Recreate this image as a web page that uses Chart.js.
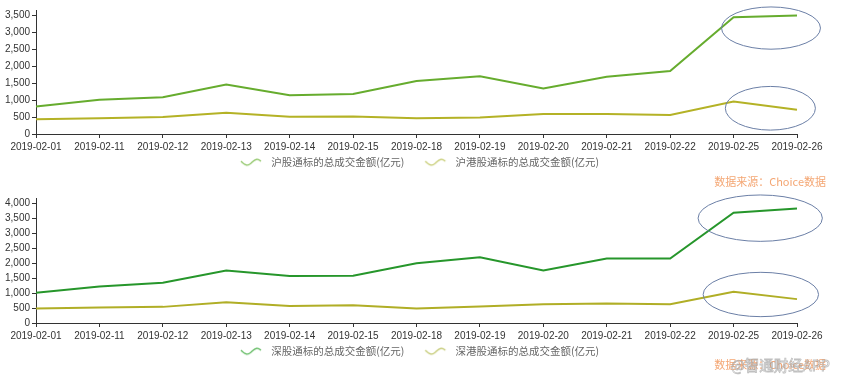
<!DOCTYPE html>
<html>
<head>
<meta charset="utf-8">
<script src="https://cdn.jsdelivr.net/npm/chart.js@4.4.1/dist/chart.umd.min.js"></script>
<style>
  html, body { margin: 0; padding: 0; background: #ffffff; }
  #wrap { position: relative; width: 843px; height: 383px; overflow: hidden; }
  .box { position: absolute; left: 0; width: 843px; }
</style>
</head>
<body>
<div id="wrap">
  <div class="box" style="top:0;height:190px;"><canvas id="c1" width="843" height="190"></canvas></div>
  <div class="box" style="top:190px;height:193px;"><canvas id="c2" width="843" height="193"></canvas></div>
</div>
<script>
// ---------- data ----------
const categories = ['2019-02-01','2019-02-11','2019-02-12','2019-02-13','2019-02-14','2019-02-15','2019-02-18','2019-02-19','2019-02-20','2019-02-21','2019-02-22','2019-02-25','2019-02-26'];

const shNorthLabel = '沪股通标的总成交金额(亿元)';
const shNorth = [810, 1008, 1085, 1462, 1140, 1180, 1560, 1700, 1345, 1690, 1857, 3440, 3495];
const shSouthLabel = '沪港股通标的总成交金额(亿元)';
const shSouth = [433, 463, 504, 623, 506, 513, 463, 490, 590, 593, 563, 958, 712];
const yTicksTop = [0, 500, 1000, 1500, 2000, 2500, 3000, 3500];

const szNorthLabel = '深股通标的总成交金额(亿元)';
const szNorth = [1011, 1223, 1348, 1752, 1570, 1580, 1995, 2195, 1752, 2156, 2156, 3683, 3830];
const szSouthLabel = '深港股通标的总成交金额(亿元)';
const szSouth = [482, 516, 539, 697, 570, 590, 485, 548, 623, 650, 630, 1044, 798];
const yTicksBottom = [0, 500, 1000, 1500, 2000, 2500, 3000, 3500, 4000];

const sourceText = '数据来源：Choice数据';
const watermarkText = '@智通财经APP';

// ---------- helpers ----------
const ICON_W = 43, WAVE_L = 18, WAVE_W = 20;
function waveIcon(color) {
  const c = document.createElement('canvas');
  c.width = ICON_W; c.height = 10;
  const g = c.getContext('2d');
  g.strokeStyle = color; g.lineWidth = 1.3;
  g.beginPath();
  for (let x = 0; x <= WAVE_W; x += 0.5) {
    const y = 5 + 2.8 * Math.sin((x / WAVE_W) * Math.PI * 2 - 0.35);
    if (x === 0) g.moveTo(WAVE_L + x, y); else g.lineTo(WAVE_L + x, y);
  }
  g.stroke();
  return c;
}

const ellipsePlugin = {
  id: 'ellipses',
  afterDatasetsDraw(chart, args, opts) {
    const xs = chart.scales.x, ys = chart.scales.y, ctx = chart.ctx;
    const step = xs.getPixelForValue(1) - xs.getPixelForValue(0);
    ctx.save();
    ctx.strokeStyle = '#6b7fa6';
    ctx.lineWidth = 1;
    (opts.items || []).forEach(e => {
      const cx = xs.getPixelForValue(0) + e.i * step;
      const cy = ys.getPixelForValue(e.v);
      const ry = Math.abs(ys.getPixelForValue(e.v + e.dv) - cy);
      ctx.beginPath();
      ctx.ellipse(cx, cy, e.di * step, ry, 0, 0, Math.PI * 2);
      ctx.stroke();
    });
    ctx.restore();
  }
};

const sourcePlugin = {
  id: 'source',
  afterDraw(chart, args, opts) {
    const ctx = chart.ctx;
    ctx.save();
    ctx.font = '11px "Noto Sans CJK SC", sans-serif';
    ctx.fillStyle = '#f4a673';
    ctx.textAlign = 'right';
    ctx.textBaseline = 'middle';
    ctx.fillText(sourceText, 826, opts.y);
    if (opts.watermark) {
      ctx.font = '14.5px "Noto Sans CJK SC", sans-serif';
      ctx.textAlign = 'right';
      ctx.fillStyle = 'rgba(255,255,255,0.5)';
      ctx.fillText(watermarkText, 830, opts.y);
      ctx.strokeStyle = 'rgba(140,140,140,0.55)';
      ctx.lineWidth = 0.8;
      ctx.strokeText(watermarkText, 830, opts.y);
    }
    ctx.restore();
  }
};

function makeChart(id, labels, series, yMax, yTicks, padTop, padBottom, ellipses, sourceY, watermark) {
  return new Chart(document.getElementById(id), {
    type: 'line',
    data: {
      labels: labels,
      datasets: series.map(s => ({
        label: s.label,
        data: s.data,
        borderColor: s.color,
        backgroundColor: s.color,
        borderWidth: 2,
        pointRadius: 0,
        pointHoverRadius: 0,
        tension: 0,
        fill: false,
        pointStyle: waveIcon(s.iconColor)
      }))
    },
    options: {
      responsive: false,
      animation: false,
      events: [],
      layout: { padding: { left: 0, right: 21, top: padTop, bottom: padBottom } },
      scales: {
        x: {
          offset: false,
          grid: { drawOnChartArea: false, drawTicks: true, tickLength: 4, color: '#333' },
          border: { display: true, color: '#333', width: 1 },
          ticks: { color: '#333', font: { family: 'Liberation Sans, Arial', size: 10 }, maxRotation: 0, autoSkip: false, padding: 3 },
          afterFit(scale) { scale.height = 20; }
        },
        y: {
          min: 0,
          max: yMax,
          grid: { drawOnChartArea: false, drawTicks: true, tickLength: 4, color: '#333' },
          border: { display: true, color: '#333', width: 1 },
          ticks: {
            color: '#333',
            font: { family: 'Liberation Sans, Arial', size: 10 },
            padding: 2,
            autoSkip: false,
            callback: v => Number(v).toLocaleString('en-US')
          },
          afterBuildTicks(axis) { axis.ticks = yTicks.map(v => ({ value: v })); },
          afterFit(scale) { scale.width = 36; }
        },
        yPad: {
          type: 'linear',
          position: 'right',
          display: true,
          grid: { display: false },
          border: { display: false },
          ticks: { display: false },
          afterFit(scale) { scale.width = 25; }
        }
      },
      plugins: {
        legend: {
          position: 'bottom',
          labels: {
            usePointStyle: true,
            pointStyleWidth: ICON_W,
            boxHeight: 10,
            padding: 3,
            color: '#666',
            font: { family: '"Noto Sans CJK SC", sans-serif', size: 10.5 }
          }
        },
        tooltip: { enabled: false },
        ellipses: { items: ellipses },
        source: { y: sourceY, watermark: watermark }
      }
    },
    plugins: [ellipsePlugin, sourcePlugin]
  });
}

makeChart('c1', categories, [
  { label: shNorthLabel, data: shNorth, color: '#66ac2e', iconColor: '#8cc463' },
  { label: shSouthLabel, data: shSouth, color: '#b4b226', iconColor: '#c6cc72' }
], 3657, yTicksTop, 10, 12.5, [
  { i: 11.59, v: 3124, di: 0.78, dv: 623 },
  { i: 11.58, v: 759, di: 0.71, dv: 644 }
], 182, false);

makeChart('c2', categories, [
  { label: szNorthLabel, data: szNorth, color: '#26962b', iconColor: '#5cb85c' },
  { label: szSouthLabel, data: szSouth, color: '#b0ae26', iconColor: '#c2c870' }
], 4178, yTicksBottom, 8, 16.5, [
  { i: 11.42, v: 3504, di: 0.98, dv: 775 },
  { i: 11.43, v: 953, di: 0.91, dv: 741 }
], 175, true);
</script>
</body>
</html>
